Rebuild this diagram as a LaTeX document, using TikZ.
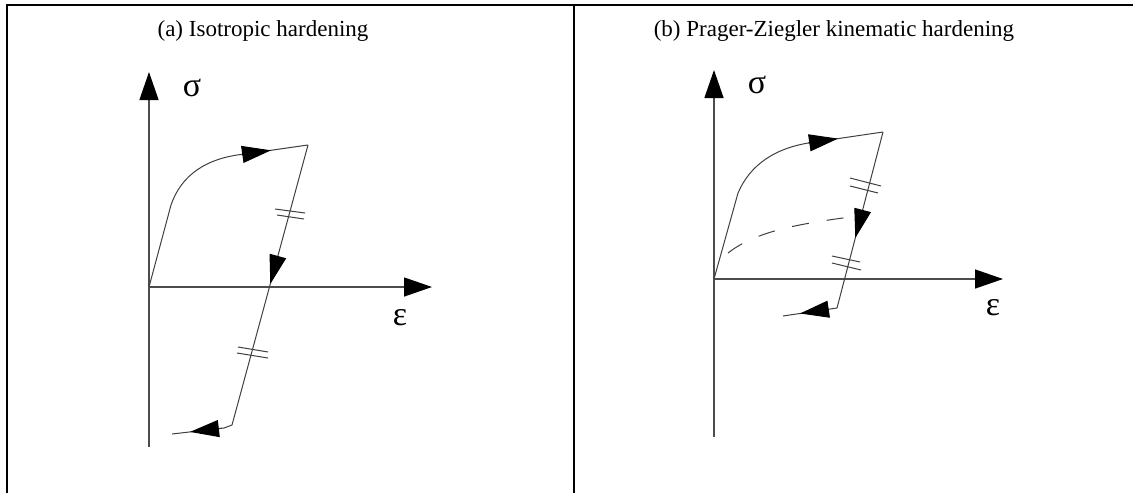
\documentclass[tikz,border=0pt]{standalone}
\usepackage{fontspec}
\setmainfont{Liberation Serif}
\usetikzlibrary{arrows.meta}
\tikzset{
 frame/.style={line width=2pt,black},
 axis/.style={line width=1.3pt,black!70,-{Triangle[length=28pt,width=19pt,black]}},
 curve/.style={line width=1pt,black!75},
 flowtip/.style={line width=1pt,black!75,-{Triangle[length=29pt,width=17pt,black]}},
 hash/.style={line width=1pt,black!75},
 title/.style={font=\fontsize{23}{27}\selectfont,anchor=base,inner sep=0pt},
 greek/.style={font=\fontsize{34}{38}\selectfont,inner sep=0pt},
}
\begin{document}
\begin{tikzpicture}[x=1pt,y=-1pt]
\useasboundingbox (0,0) rectangle (1135,493);
% frame
\draw[frame] (6.5,493) -- (6.5,5) -- (1133,5);
\draw[frame] (574,5) -- (574,493);
% titles
\node[title] (ta) at (263,36) {(a) Isotropic hardening};
\node[title] (tb) at (834,36) {(b) Prager-Ziegler kinematic hardening};

% ---------- panel (a)
\coordinate (Oa) at (149,287);
\coordinate (ya) at (149,447);
\coordinate (yta) at (149,72);
\coordinate (xta) at (432,287);
\draw[axis] (ya) -- (yta);
\draw[axis] (Oa) -- (xta);
\node[greek] (sa) at (192,88) {σ};
\node[greek] (ea) at (400,318) {ε};
\coordinate (Pa) at (308,145);
\coordinate (Ka) at (232,425);
\coordinate (Ea) at (172,434);
\draw[curve] (Oa) -- (171,205) .. controls (181,176) and (205,158) .. (245,154) -- (Pa);
\draw[flowtip] (241,154.6) -- (271,150.3);
\draw[curve] (Pa) -- (Ka) -- (224,428) -- (Ea);
\draw[flowtip] (277.6,257) -- (270.3,284);
\draw[flowtip] (222,428.2) -- (190,431.9);
\draw[hash] (275,209) -- (305,213);
\draw[hash] (277,215) -- (304,219);
\draw[hash] (238,347) -- (268,352);
\draw[hash] (237,353) -- (268,358);

% ---------- panel (b)
\coordinate (Ob) at (714,279);
\coordinate (yb) at (714,437);
\coordinate (ytb) at (714,70);
\coordinate (xtb) at (1003,279);
\draw[axis] (yb) -- (ytb);
\draw[axis] (Ob) -- (xtb);
\node[greek] (sb) at (757,85) {σ};
\node[greek] (eb) at (993,308) {ε};
\coordinate (Pb) at (883,132);
\coordinate (Kb) at (837,308);
\coordinate (Eb) at (783,316);
\draw[curve] (Ob) -- (738,193) .. controls (750,165) and (775,147) .. (815,142) -- (Pb);
\draw[flowtip] (808,143) -- (838,138.6);
\draw[curve] (Pb) -- (Kb) -- (Eb);
\draw[flowtip] (862.4,210.9) -- (855.3,238);
\draw[flowtip] (826,309.6) -- (800,313.5);
\draw[hash] (850,178) -- (881,186);
\draw[hash] (850,186) -- (878,193);
\draw[hash] (832,256) -- (860,262);
\draw[hash] (832,263) -- (861,270);
\draw[curve,dash pattern=on 17pt off 18pt] (728,253) .. controls (755,232) and (795,224) .. (858,216);
\end{tikzpicture}
\end{document}
